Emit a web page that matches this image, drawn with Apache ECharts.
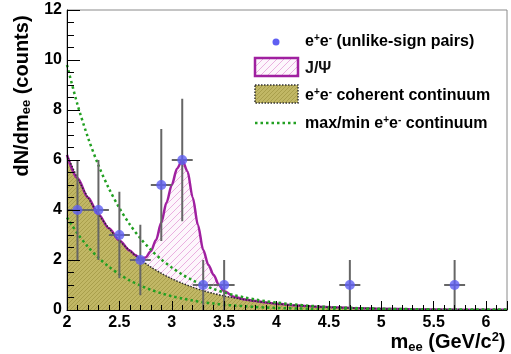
<!DOCTYPE html>
<html>
<head>
<meta charset="utf-8">
<script src="https://cdn.jsdelivr.net/npm/echarts@6/dist/echarts.min.js"></script>
<style>
  html, body { margin: 0; padding: 0; background: #fff; }
  #chart { width: 511px; height: 354px; }
</style>
</head>
<body>
<div id="chart"></div>
<script>
// measured points, e+e- unlike-sign pairs
const ptX = [2.1, 2.3, 2.5, 2.7, 2.9, 3.1, 3.3, 3.5, 4.7, 5.7]
const ptY = [4, 4, 3, 2, 5, 6, 1, 1, 1, 1]
const ptErrX = [0.1, 0.1, 0.1, 0.1, 0.1, 0.1, 0.1, 0.1, 0.1, 0.1]
const ptErrY = [2, 2, 1.73, 1.41, 2.24, 2.45, 1, 1, 1, 1]

// continuum curves, read every 0.1 from 2.0 to 6.2
const curveX = [2.0, 2.1, 2.2, 2.3, 2.4, 2.5, 2.6, 2.7, 2.8, 2.9, 3.0, 3.1, 3.2, 3.3, 3.4, 3.5, 3.6, 3.7, 3.8, 3.9,
  4.0, 4.1, 4.2, 4.3, 4.4, 4.5, 4.6, 4.7, 4.8, 4.9, 5.0, 5.1, 5.2, 5.3, 5.4, 5.5, 5.6, 5.7, 5.8, 5.9, 6.0, 6.1, 6.2]
const contY = [6.2, 5.28, 4.5, 3.83, 3.27, 2.78, 2.37, 2.02, 1.72, 1.47, 1.25, 1.07, 0.91, 0.77, 0.66, 0.56, 0.48, 0.41, 0.35, 0.3,
  0.25, 0.21, 0.18, 0.16, 0.13, 0.11, 0.1, 0.08, 0.07, 0.06, 0.05, 0.04, 0.04, 0.03, 0.03, 0.02, 0.02, 0.02, 0.01, 0.01, 0.01, 0.01, 0.01]
const maxY = [9.8, 8.22, 6.9, 5.79, 4.86, 4.08, 3.42, 2.87, 2.41, 2.02, 1.7, 1.42, 1.19, 1.0, 0.84, 0.7, 0.59, 0.5, 0.42, 0.35,
  0.3, 0.25, 0.21, 0.17, 0.15, 0.12, 0.1, 0.09, 0.07, 0.06, 0.05, 0.04, 0.04, 0.03, 0.03, 0.02, 0.02, 0.02, 0.01, 0.01, 0.01, 0.01, 0.01]
const minY = [3.7, 3.06, 2.53, 2.09, 1.73, 1.43, 1.18, 0.98, 0.81, 0.67, 0.55, 0.46, 0.38, 0.31, 0.26, 0.21, 0.18, 0.15, 0.12, 0.1,
  0.08, 0.07, 0.06, 0.05, 0.04, 0.03, 0.03, 0.02, 0.02, 0.02, 0.01, 0.01, 0.01, 0.01, 0.01, 0.01, 0.01, 0.01, 0.01, 0.01, 0.01, 0.01, 0.01]

// J/psi peak on top of the continuum
const jpsiX = [2.0, 2.1, 2.2, 2.3, 2.4, 2.5, 2.6, 2.65, 2.7, 2.75, 2.8, 2.85, 2.9, 2.95, 3.0, 3.05, 3.1, 3.15, 3.2, 3.25,
  3.3, 3.35, 3.4, 3.45, 3.5, 3.6, 3.7, 3.8, 3.9, 4.0, 4.2, 4.4, 4.6, 4.8, 5.0, 5.5, 6.0, 6.2]
const jpsiY = [6.2, 5.28, 4.5, 3.83, 3.27, 2.78, 2.38, 2.2, 2.06, 2.1, 2.35, 2.8, 3.5, 4.3, 5.0, 5.65, 6.0, 5.55, 4.5, 3.4,
  2.4, 1.8, 1.4, 1.0, 0.75, 0.52, 0.42, 0.36, 0.3, 0.25, 0.18, 0.13, 0.1, 0.07, 0.05, 0.02, 0.01, 0.01]

const xTicks = { min: 2, max: 6.2, interval: 0.5 }
const yTicks = { min: 0, max: 12, interval: 2 }

const FONT = "'Liberation Sans', Arial, Helvetica, sans-serif"

function pairs (xs, ys) {
  return xs.map((x, i) => [x, ys[i]])
}

function hatch (bg, fg, size, lw) {
  const c = document.createElement('canvas')
  c.width = size
  c.height = size
  const g = c.getContext('2d')
  g.fillStyle = bg
  g.fillRect(0, 0, size, size)
  g.strokeStyle = fg
  g.lineWidth = lw
  g.beginPath()
  g.moveTo(0, size)
  g.lineTo(size, 0)
  g.moveTo(-1, 1)
  g.lineTo(1, -1)
  g.moveTo(size - 1, size + 1)
  g.lineTo(size + 1, size - 1)
  g.stroke()
  return c
}

const pinkHatch = { image: hatch('#fdf6fc', '#eab0e0', 7, 1), repeat: 'repeat' }
const oliveHatch = { image: hatch('#c1b765', '#a99f4c', 4, 1), repeat: 'repeat' }

const supRich = {
  t: { fontFamily: FONT, fontSize: 16, fontWeight: 'bold', color: '#111' },
  p: { fontFamily: FONT, fontSize: 10, fontWeight: 'bold', color: '#111', padding: [0, 0, 8, 0] }
}

const chart = echarts.init(document.getElementById('chart'))
chart.setOption({
  animation: false,
  backgroundColor: '#fff',
  grid: {
    left: 67,
    right: 4,
    top: 10,
    bottom: 44,
    containLabel: false,
    outerBoundsMode: 'none',
    show: true,
    borderColor: '#8a8a8a',
    borderWidth: 1,
    backgroundColor: '#fff'
  },
  xAxis: {
    type: 'value',
    min: xTicks.min,
    max: xTicks.max,
    interval: xTicks.interval,
    z: 10,
    name: '{n|m}{s|ee}{n| (GeV/c}{p|2}{n|)}',
    nameLocation: 'middle',
    nameGap: 21,
    nameMoveOverlap: false,
    nameTextStyle: {
      verticalAlign: 'top',
      padding: [0, 0, 0, 322],
      rich: {
        n: { fontFamily: FONT, fontSize: 20, fontWeight: 'bold', color: '#000' },
        s: { fontFamily: FONT, fontSize: 13, fontWeight: 'bold', color: '#000', padding: [9, 0, 0, 0] },
        p: { fontFamily: FONT, fontSize: 13, fontWeight: 'bold', color: '#000', padding: [0, 0, 10, 0] }
      }
    },
    axisLine: { lineStyle: { color: '#000', width: 1 } },
    axisTick: { inside: true, length: 9, lineStyle: { color: '#000' } },
    minorTick: { show: true, splitNumber: 5, length: 5, lineStyle: { color: '#000' } },
    splitLine: { show: false },
    axisLabel: {
      margin: 5,
      showMaxLabel: false,
      color: '#000',
      fontFamily: FONT,
      fontSize: 16,
      fontWeight: 'bold'
    }
  },
  yAxis: {
    type: 'value',
    min: yTicks.min,
    max: yTicks.max,
    interval: yTicks.interval,
    z: 10,
    name: '{n|dN/dm}{s|ee}{n| (counts)}',
    nameLocation: 'middle',
    nameRotate: 90,
    nameGap: 34,
    nameMoveOverlap: false,
    nameTextStyle: {
      padding: [0, 0, 0, 128],
      rich: {
        n: { fontFamily: FONT, fontSize: 20, fontWeight: 'bold', color: '#000' },
        s: { fontFamily: FONT, fontSize: 13, fontWeight: 'bold', color: '#000', padding: [9, 0, 0, 0] }
      }
    },
    axisLine: { show: true, lineStyle: { color: '#000', width: 1 } },
    axisTick: { show: true, inside: true, length: 13, lineStyle: { color: '#000' } },
    minorTick: { show: true, splitNumber: 4, length: 7, lineStyle: { color: '#000' } },
    splitLine: { show: false },
    axisLabel: {
      margin: 5,
      color: '#000',
      fontFamily: FONT,
      fontSize: 16,
      fontWeight: 'bold'
    }
  },
  graphic: [
    { type: 'circle', shape: { cx: 276, cy: 42, r: 3.5 }, style: { fill: '#5f5ff2' }, z: 20 },
    { type: 'text', x: 305, y: 42, z: 20, style: { text: '{t|e}{p|+}{t|e}{p|-}{t| (unlike-sign pairs)}', rich: supRich, verticalAlign: 'middle' } },
    { type: 'rect', shape: { x: 255, y: 58, width: 43, height: 18 }, style: { fill: pinkHatch, stroke: '#a020a0', lineWidth: 2.5 }, z: 20 },
    { type: 'text', x: 305, y: 69, z: 20, style: { text: 'J/Ψ', font: 'bold 16px ' + FONT, fill: '#111', verticalAlign: 'middle' } },
    { type: 'rect', shape: { x: 255, y: 85, width: 43, height: 18 }, style: { fill: oliveHatch, stroke: '#333', lineWidth: 1.5, lineDash: [1.5, 1.5] }, z: 20 },
    { type: 'text', x: 305, y: 96, z: 20, style: { text: '{t|e}{p|+}{t|e}{p|-}{t| coherent continuum}', rich: supRich, verticalAlign: 'middle' } },
    { type: 'line', shape: { x1: 255, y1: 123, x2: 298, y2: 123 }, style: { stroke: '#22a022', lineWidth: 2.5, lineDash: [2.5, 3] }, z: 20 },
    { type: 'text', x: 305, y: 124, z: 20, style: { text: '{t|max/min e}{p|+}{t|e}{p|-}{t| continuum}', rich: supRich, verticalAlign: 'middle' } }
  ],
  series: [
    {
      name: 'J/Ψ area',
      type: 'line',
      data: pairs(jpsiX, jpsiY),
      smooth: 0.3,
      smoothMonotone: 'x',
      showSymbol: false,
      lineStyle: { width: 0 },
      areaStyle: { color: pinkHatch, opacity: 1 },
      z: 1
    },
    {
      name: 'coherent continuum',
      type: 'line',
      data: pairs(curveX, contY),
      smooth: 0.3,
      showSymbol: false,
      lineStyle: { width: 0 },
      areaStyle: { color: oliveHatch, opacity: 1 },
      z: 2
    },
    {
      name: 'J/Ψ',
      type: 'line',
      data: pairs(jpsiX, jpsiY),
      smooth: 0.3,
      smoothMonotone: 'x',
      showSymbol: false,
      lineStyle: { color: '#a020a0', width: 2.5 },
      z: 3
    },
    {
      name: 'continuum edge',
      type: 'line',
      data: pairs(curveX, contY),
      smooth: 0.3,
      showSymbol: false,
      lineStyle: { color: '#2a2a2a', width: 1.5, type: [1.5, 1.5] },
      z: 4
    },
    {
      name: 'max continuum',
      type: 'line',
      data: pairs(curveX, maxY),
      smooth: 0.3,
      showSymbol: false,
      lineStyle: { color: '#22a022', width: 2.5, type: [2.5, 3] },
      z: 5
    },
    {
      name: 'min continuum',
      type: 'line',
      data: pairs(curveX, minY),
      smooth: 0.3,
      showSymbol: false,
      lineStyle: { color: '#22a022', width: 2.5, type: [2.5, 3] },
      z: 5
    },
    {
      name: 'errors',
      type: 'custom',
      data: ptX.map((x, i) => [x, ptY[i], ptErrX[i], ptErrY[i]]),
      encode: { x: 0, y: 1 },
      renderItem: function (params, api) {
        const x = api.value(0)
        const y = api.value(1)
        const ex = api.value(2)
        const ey = api.value(3)
        const lo = api.coord([x, y - ey])
        const hi = api.coord([x, y + ey])
        const l = api.coord([x - ex, y])
        const r = api.coord([x + ex, y])
        const st = { stroke: '#666', lineWidth: 2 }
        return {
          type: 'group',
          children: [
            { type: 'line', shape: { x1: lo[0], y1: lo[1], x2: hi[0], y2: hi[1] }, style: st },
            { type: 'line', shape: { x1: l[0], y1: l[1], x2: r[0], y2: r[1] }, style: st }
          ]
        }
      },
      z: 6
    },
    {
      name: 'e+e- (unlike-sign pairs)',
      type: 'scatter',
      data: pairs(ptX, ptY),
      symbolSize: 10,
      itemStyle: { color: '#5f5ff2' },
      z: 7
    }
  ]
})
</script>
</body>
</html>
